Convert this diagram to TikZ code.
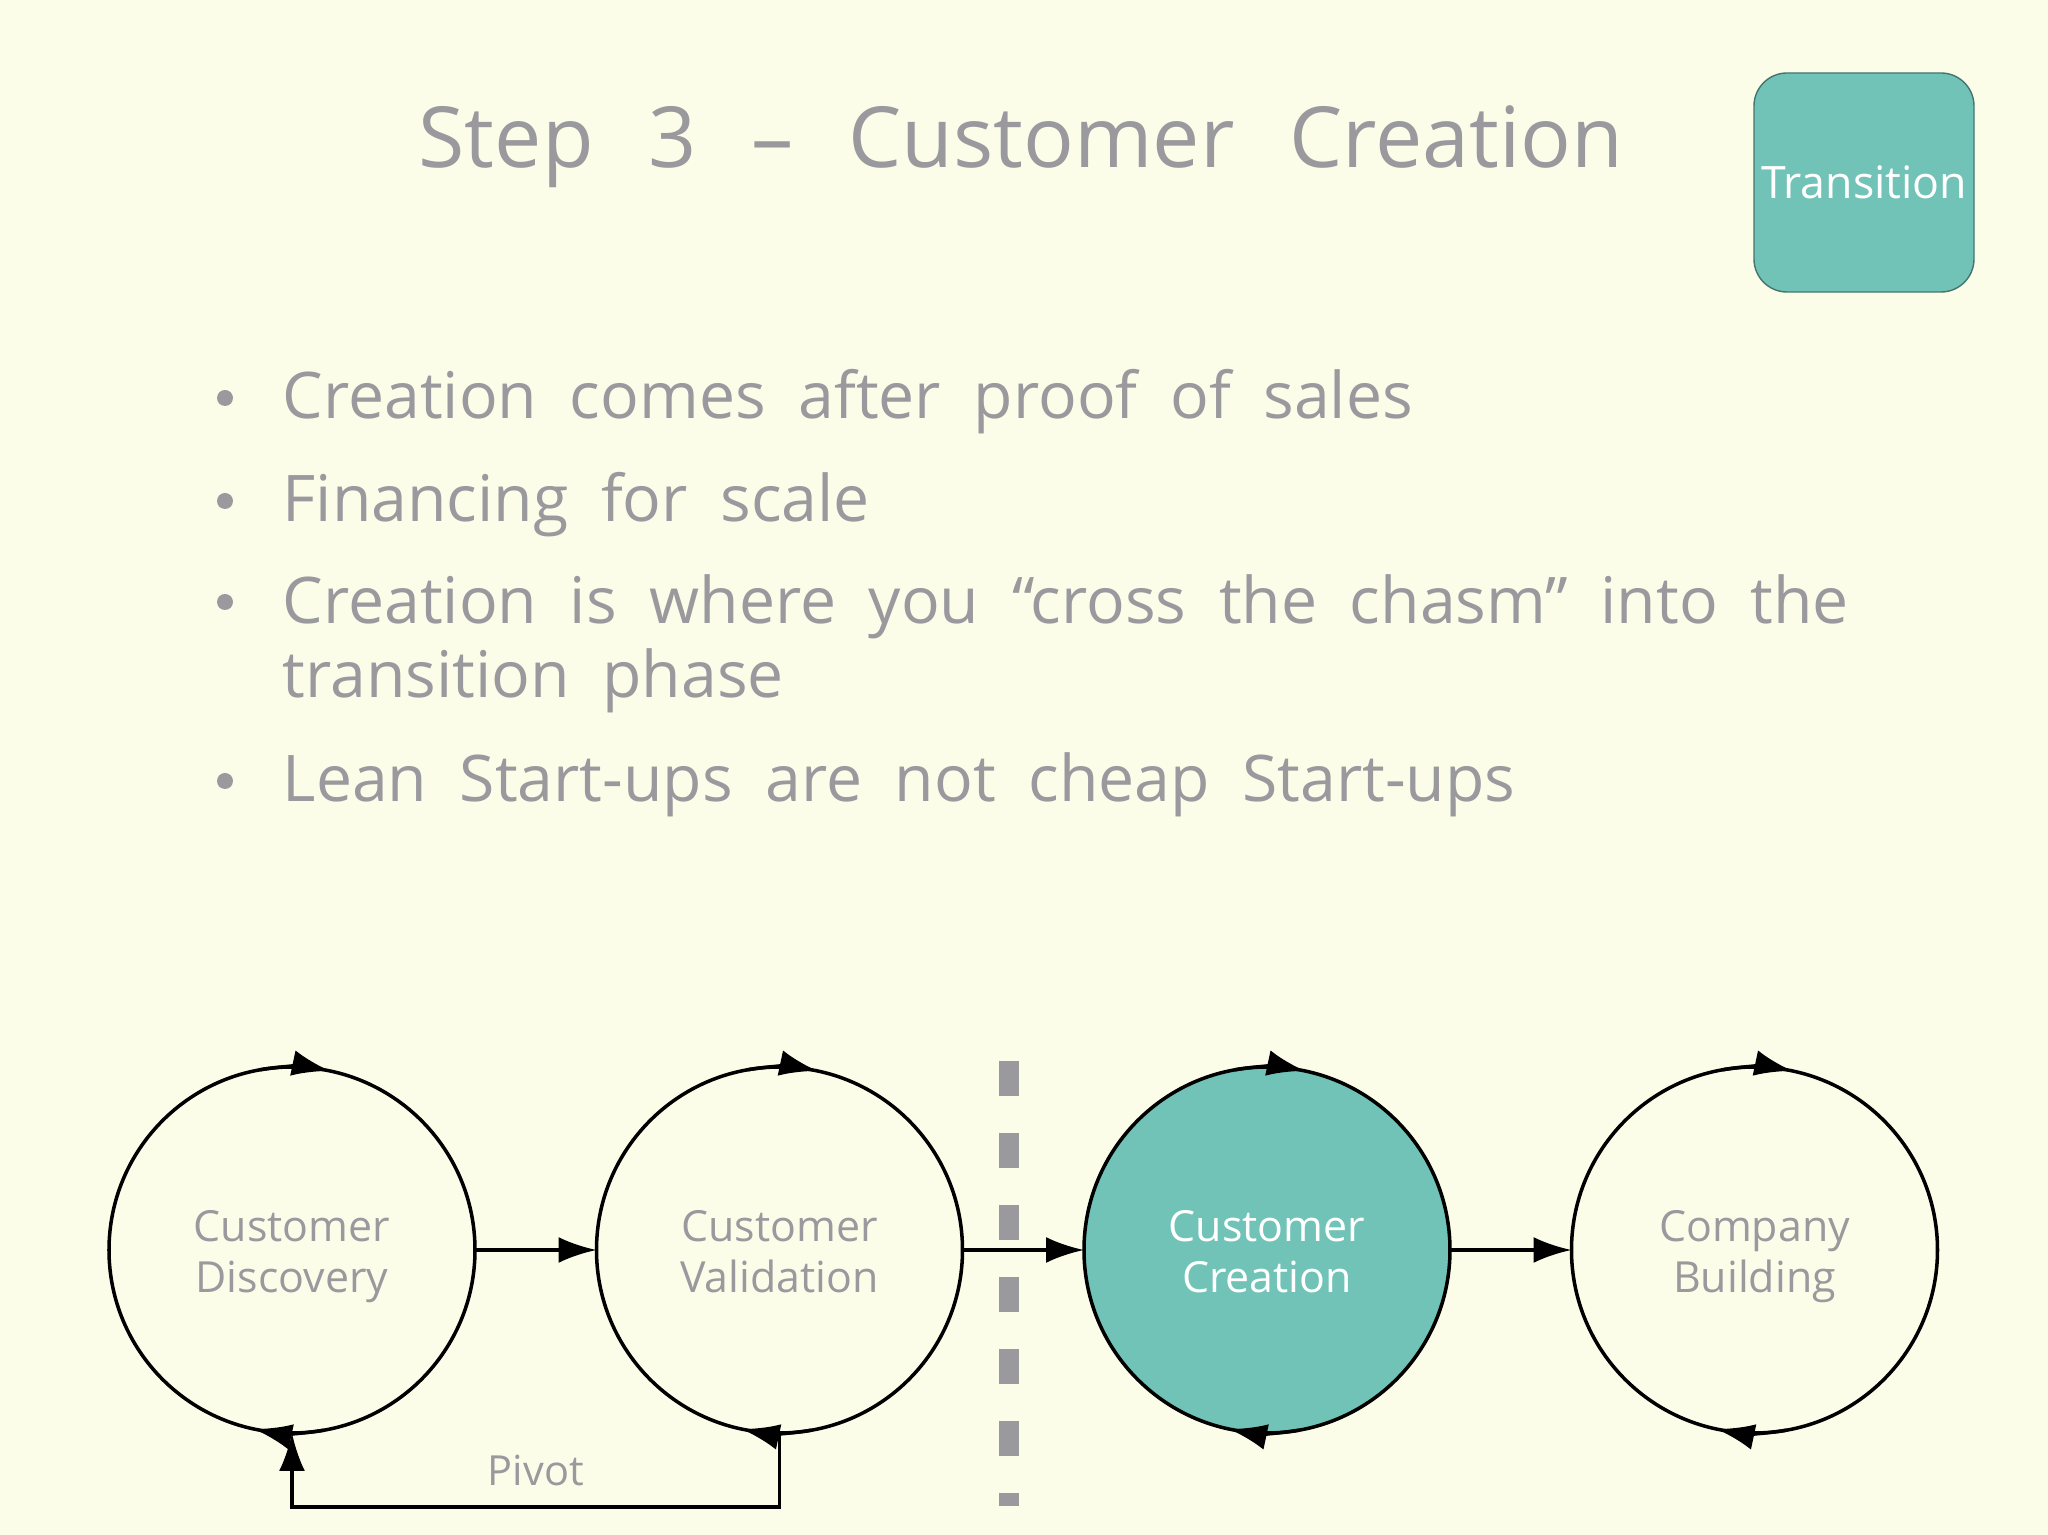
\documentclass[tikz,border=0pt]{standalone}
\usepackage{fontspec}
\setmainfont{Open Sans}[WordSpace={1.95}]
\newfontfamily\titlefont{Open Sans}[WordSpace={2.5}]
\usetikzlibrary{positioning,arrows.meta}
\definecolor{slidebg}{HTML}{FCFDE9}
\definecolor{slidegrey}{HTML}{9A9A9E}
\definecolor{phaseteal}{HTML}{72C3B7}

\begin{document}
\begin{tikzpicture}[>={Latex[length=3.8mm,width=2.6mm]},
    every node/.style={text=slidegrey},
    phase/.style={draw=black, line width=1pt, circle, minimum size=3.66cm, inner sep=0pt, outer sep=0pt},
    phasetxt/.style={align=center, yshift=-0.095cm, font=\fontsize{12.2}{14.5}\selectfont},
    link/.style={->, line width=1pt, black},
    bullettxt/.style={anchor=base west, align=left, inner sep=0pt, font=\fontsize{18.3}{21.3}\selectfont}]
  \fill[slidebg] (0,0) rectangle (20.48,15.35);
  \useasboundingbox (0,0) rectangle (20.48,15.35);

  \node[anchor=base, font=\titlefont\fontsize{24}{28}\selectfont] (title) at (10.21,13.67) {Step 3 – Customer Creation};
  \node[draw=phaseteal!60!black, fill=phaseteal, rounded corners=0.33cm, inner sep=0pt, minimum width=2.2cm, minimum height=2.19cm, text=white, font=\fontsize{12.7}{15}\selectfont] (trans) at (18.64,13.525) {Transition};

  % bullet points
  \node[bullettxt] (b1) at (2.82,11.16) {Creation comes after proof of sales};
  \node[bullettxt] (b2) at (2.82,10.13) {Financing for scale};
  \node[bullettxt] (b3) at (2.82,8.37) {Creation is where you “cross the chasm” into the\\transition phase};
  \node[bullettxt] (b4) at (2.82,7.33) {Lean Start-ups are not cheap Start-ups};
  \foreach \b/\dy in {b1/0.21,b2/0.21,b3/0.96,b4/0.21}
    \fill[slidegrey] ([xshift=-0.57cm, yshift=\dy cm]\b.base west) circle (0.08);

  % the chasm
  \draw[slidegrey, line width=0.2cm, dash pattern=on 0.35cm off 0.37cm] (10.09,4.74) -- (10.09,0.29);

  % the four steps
  \node[phase, label={[phasetxt]center:{Customer\\Discovery\strut}}] (disc) at (2.92,2.85) {};
  \node[phase, right=1.215cm of disc, label={[phasetxt]center:{Customer\\Validation\strut}}] (valid) {};
  \node[phase, right=1.215cm of valid, fill=phaseteal, label={[phasetxt, text=white]center:{Customer\\Creation\strut}}] (crea) {};
  \node[phase, right=1.215cm of crea, label={[phasetxt]center:{Company\\Building\strut}}] (build) {};

  \foreach \c in {disc,valid,crea,build} {
    \draw[link] (\c.100) arc[start angle=100, end angle=78, radius=1.83cm];
    \draw[link] (\c.280) arc[start angle=280, end angle=258, radius=1.83cm];
  }

  \draw[link] (disc) -- (valid);
  \draw[link] (valid) -- (crea);
  \draw[link] (crea) -- (build);
  \draw[link] (valid.south) -- ++(0,-0.74) -| node[pos=0.25, above=0.08cm, font=\fontsize{11.8}{14}\selectfont] (pivot) {Pivot} (disc.south);
\end{tikzpicture}
\end{document}
